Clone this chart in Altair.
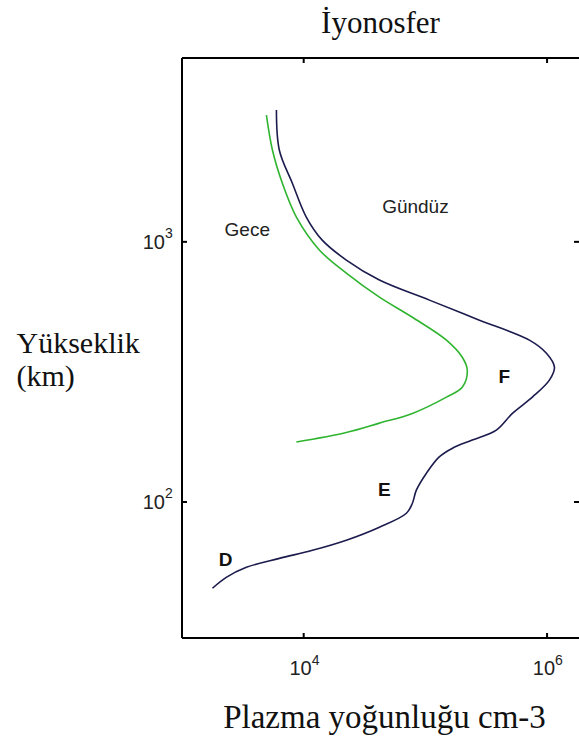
import altair as alt
import pandas as pd

# Daytime electron density profile (cm^-3) versus altitude (km)
day_density = [5970, 6310, 8070, 10500, 14200, 22400, 41900, 108000, 278000, 716000,
               988000, 1150000, 1045000, 757000, 519000, 383000, 243000, 167000, 130000,
               102000, 84300, 78200, 69800, 41900, 22400, 11800, 6310, 3380, 2310, 1780]
day_altitude = [3210, 2250, 1680, 1245, 1015, 851, 713, 597, 500, 419,
                373, 330, 294, 253, 219, 189, 173, 161, 149,
                129, 111, 98.9, 90.5, 80, 71.3, 65.2, 60.7, 56.1, 51.3, 46.6]

# Night-time profile
night_density = [4940, 5540, 6680, 8710, 13500, 22400, 41900, 78200, 149000, 201000,
                 221000, 201000, 149000, 78200, 41900, 22400, 8710]
night_altitude = [3070, 2250, 1680, 1245, 929, 758, 613, 513, 419, 360,
                  321, 276, 253, 219, 201, 185, 170]

# In-plot annotations
layer_names = ["D", "E", "F"]
layer_density = [2280, 46000, 446000]
layer_altitude = [59.7, 111, 301]

curve_names = ["Gece", "Gündüz"]
curve_density = [3440, 82800]
curve_altitude = [1109, 1360]

# Decade ticks and their labels
x_ticks = [1e4, 1e6]
x_exponents = ["4", "6"]
y_ticks = [100, 1000]
y_exponents = ["2", "3"]

title_text = "İyonosfer"

W, H = 397, 580
SERIF = "Liberation Serif"
SANS = "Liberation Sans"

day_df = pd.DataFrame({"density": day_density, "altitude": day_altitude,
                       "order": range(len(day_density))})
night_df = pd.DataFrame({"density": night_density, "altitude": night_altitude,
                         "order": range(len(night_density))})
layer_df = pd.DataFrame({"density": layer_density, "altitude": layer_altitude, "name": layer_names})
curve_df = pd.DataFrame({"density": curve_density, "altitude": curve_altitude, "name": curve_names})
xt_df = pd.DataFrame({"density": x_ticks, "base": "10", "exp": x_exponents})
yt_df = pd.DataFrame({"altitude": y_ticks, "base": "10", "exp": y_exponents})

x_scale = alt.Scale(type="log", domain=[1e3, 1.83e6], nice=False)
y_scale = alt.Scale(type="log", domain=[30, 5090], nice=False)

x_axis = alt.Axis(title="Plazma yoğunluğu cm-3", labels=False, ticks=False, domain=False,
                  grid=False, titleFont=SERIF, titleFontSize=33, titleFontWeight="normal",
                  titleColor="#111", titleX=202, titleY=89, titleAlign="center",
                  titleBaseline="alphabetic")
y_axis = alt.Axis(title=["Yükseklik", "(km)"], labels=False, ticks=False, domain=False,
                  grid=False, titleFont=SERIF, titleFontSize=30, titleFontWeight="normal",
                  titleColor="#111", titleAngle=0, titleAlign="left",
                  titleBaseline="alphabetic", titleX=-166, titleY=294, titleLineHeight=33)


def X():
    return alt.X("density:Q", scale=x_scale, axis=x_axis)


def Y():
    return alt.Y("altitude:Q", scale=y_scale, axis=y_axis)


day = alt.Chart(day_df).mark_line(color="#1b1b4d", strokeWidth=1.6, interpolate="catmull-rom").encode(
    x=X(), y=Y(), order="order:Q")
night = alt.Chart(night_df).mark_line(color="#2fb42f", strokeWidth=1.6, interpolate="catmull-rom").encode(
    x=X(), y=Y(), order="order:Q")

layer_text = alt.Chart(layer_df).mark_text(font=SANS, fontSize=19, fontWeight="bold", color="#111").encode(
    x=X(), y=Y(), text="name:N")
curve_text = alt.Chart(curve_df).mark_text(font=SANS, fontSize=19, color="#222").encode(
    x=X(), y=Y(), text="name:N")

# Chart title above the frame
title = alt.Chart(pd.DataFrame({"t": [title_text]})).mark_text(
    font=SERIF, fontSize=31, color="#111", align="center", baseline="alphabetic").encode(
    x=alt.value(W / 2), y=alt.value(-25), text="t:N")

# Frame (left, top, bottom)
frame_left = alt.Chart().mark_rule(color="black", strokeWidth=2).encode(
    x=alt.value(0), y=alt.value(0), y2=alt.value(H))
frame_top = alt.Chart().mark_rule(color="black", strokeWidth=2).encode(
    x=alt.value(0), x2=alt.value(W + 5), y=alt.value(0))
frame_bottom = alt.Chart().mark_rule(color="black", strokeWidth=2).encode(
    x=alt.value(0), x2=alt.value(W + 5), y=alt.value(H))

# Inward ticks on all four sides
tick_len = 5
xt_bottom = alt.Chart(xt_df).mark_rule(color="black", strokeWidth=2).encode(
    x=X(), y=alt.value(H - tick_len), y2=alt.value(H))
xt_top = alt.Chart(xt_df).mark_rule(color="black", strokeWidth=2).encode(
    x=X(), y=alt.value(0), y2=alt.value(tick_len))
yt_left = alt.Chart(yt_df).mark_rule(color="black", strokeWidth=2).encode(
    y=Y(), x=alt.value(0), x2=alt.value(tick_len))
yt_right = alt.Chart(yt_df).mark_rule(color="black", strokeWidth=2).encode(
    y=Y(), x=alt.value(W - tick_len), x2=alt.value(W))

# Tick labels written as 10 with a raised exponent
xl_base = alt.Chart(xt_df).mark_text(font=SANS, fontSize=20, color="#222", align="right",
                                     baseline="alphabetic", dx=8).encode(
    x=X(), y=alt.value(H + 37), text="base:N")
xl_exp = alt.Chart(xt_df).mark_text(font=SANS, fontSize=14, color="#222", align="left",
                                    baseline="alphabetic", dx=8).encode(
    x=X(), y=alt.value(H + 27), text="exp:N")
yl_base = alt.Chart(yt_df).mark_text(font=SANS, fontSize=20, color="#222", align="right",
                                     baseline="middle", dy=1).encode(
    x=alt.value(-17), y=Y(), text="base:N")
yl_exp = alt.Chart(yt_df).mark_text(font=SANS, fontSize=14, color="#222", align="left",
                                    baseline="middle", dy=-8).encode(
    x=alt.value(-17), y=Y(), text="exp:N")

chart = alt.layer(
    night, day, layer_text, curve_text, title,
    frame_left, frame_top, frame_bottom,
    xt_bottom, xt_top, yt_left, yt_right,
    xl_base, xl_exp, yl_base, yl_exp,
).properties(
    width=W, height=H,
    autosize=alt.AutoSizeParams(type="none"),
    padding={"left": 182, "top": 58, "right": 0, "bottom": 98},
).configure_view(stroke=None).configure(background="white")

chart.save("out.html", embed_options={"renderer": "svg", "actions": False})
